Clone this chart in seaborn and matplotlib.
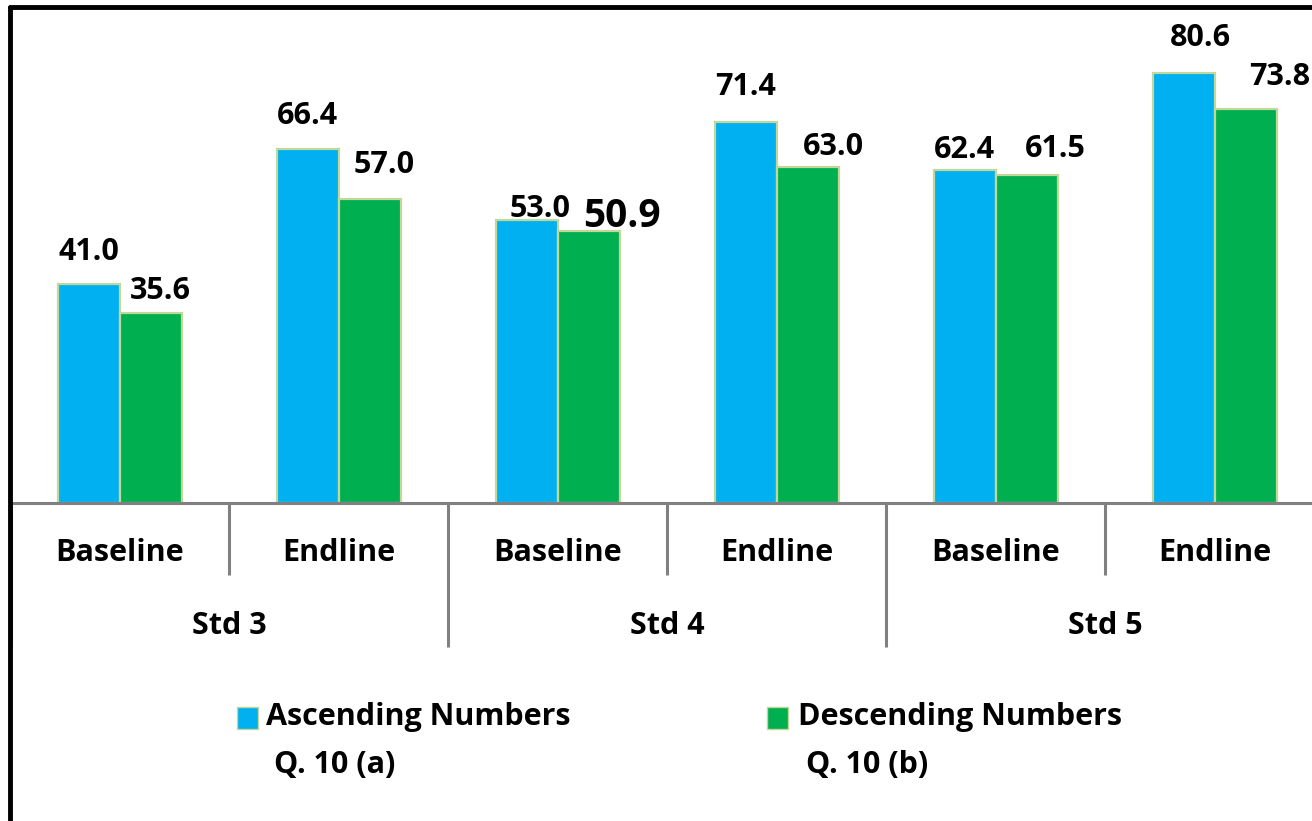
import matplotlib
matplotlib.use("Agg")
import matplotlib.pyplot as plt
import matplotlib.transforms as mtransforms
from matplotlib.patches import Rectangle
from matplotlib.lines import Line2D
import seaborn as sns
import pandas as pd

# ---- data ----
grades = ["Std 3", "Std 4", "Std 5"]
rounds = ["Baseline", "Endline"]
series = ["Ascending Numbers\nQ. 10 (a)", "Descending Numbers\nQ. 10 (b)"]
ascending = [41.0, 66.4, 53.0, 71.4, 62.4, 80.6]
descending = [35.6, 57.0, 50.9, 63.0, 61.5, 73.8]

# ---- styling ----
BLUE = "#00b0f0"
GREEN = "#00b050"
EDGE = "#c4d79b"
AXIS_GREY = "#808080"
FONT = "Open Sans"
TXT = 22

sns.set_theme(style="white")
plt.rcParams["font.family"] = [FONT, "DejaVu Sans"]
plt.rcParams["font.weight"] = "bold"

slots = [f"{g} {r}" for g in grades for r in rounds]
df = pd.DataFrame({
    "slot": slots * 2,
    "value": ascending + descending,
    "series": [series[0]] * len(slots) + [series[1]] * len(slots),
})

W, H = 1312, 821
fig = plt.figure(figsize=(W / 100, H / 100), dpi=100)
fig.patch.set_facecolor("white")

# axes in pixel geometry: x from 12 to right edge, y from 10 to 503 (top-origin)
ax_left, ax_right, ax_top, ax_bottom = 12, 1312, 10, 503
ax = fig.add_axes([ax_left / W, (H - ax_bottom) / H,
                   (ax_right - ax_left) / W, (ax_bottom - ax_top) / H])

sns.barplot(data=df, x="slot", y="value", hue="series", order=slots,
            hue_order=series, palette=[BLUE, GREEN], width=0.57,
            edgecolor=EDGE, linewidth=1.6, saturation=1, legend=False, ax=ax)

group_px = 219.0
ax.set_xlim(-0.5 + 1.5 / group_px, -0.5 + (ax_right - ax_left + 1.5) / group_px)
ax.set_ylim(0, (ax_bottom - ax_top) / 5.335)
ax.set_xticks([])
ax.set_yticks([])
ax.set_xlabel("")
ax.set_ylabel("")
for s in ["top", "right", "left"]:
    ax.spines[s].set_visible(False)
ax.spines["bottom"].set_color(AXIS_GREY)
ax.spines["bottom"].set_linewidth(2.2)

# value labels: per-bar offsets (pixels) from the bar top
label_dx = [[0, 0, 13, 0, 0, 17], [9, 14, 33, 25, 28, 33]]
label_dy = [[32, 33, 11, 35, 20, 35], [22, 34, 15, 20, 26, 32]]
label_size = [[TXT] * 6, [TXT, TXT, 28, TXT, TXT, TXT]]
for si, cont in enumerate(ax.containers):
    for bi, bar in enumerate(cont):
        val = bar.get_height()
        cx = bar.get_x() + bar.get_width() / 2
        ax.annotate(f"{val:.1f}", xy=(cx, val),
                    xytext=(label_dx[si][bi], label_dy[si][bi]),
                    textcoords="offset pixels", ha="center", va="center",
                    fontsize=label_size[si][bi], fontweight="bold",
                    color="black", annotation_clip=False)

# two-level category axis
trans = mtransforms.blended_transform_factory(ax.transData, ax.transAxes)
ax_h = ax_bottom - ax_top
short_end = -(575 - ax_bottom) / ax_h
long_end = -(647 - ax_bottom) / ax_h
for i in range(len(slots) + 1):
    x = i - 0.5
    end = long_end if i % 2 == 0 else short_end
    ax.plot([x, x], [0, end], transform=trans, color=AXIS_GREY,
            lw=2.2, clip_on=False, solid_capstyle="butt")

y_round = -(553 - ax_bottom) / ax_h
y_grade = -(626 - ax_bottom) / ax_h
for i, s in enumerate(slots):
    ax.text(i, y_round, rounds[i % 2], transform=trans, ha="center",
            va="center", fontsize=TXT, fontweight="bold", color="black")
for g, name in enumerate(grades):
    ax.text(2 * g + 0.5, y_grade, name, transform=trans, ha="center",
            va="center", fontsize=TXT, fontweight="bold", color="black")

# legend drawn below the category axis
def fx(px):
    return px / W

def fy(py):
    return 1 - py / H

for color, sq_x, txt_x, label in [(BLUE, 237, 266, series[0]),
                                  (GREEN, 767, 798, series[1])]:
    fig.patches.append(Rectangle((fx(sq_x), fy(729)), 21 / W, 22 / H,
                                 transform=fig.transFigure, facecolor=color,
                                 edgecolor=EDGE, lw=1.0))
    first, second = label.split("\n")
    fig.text(fx(txt_x), fy(717), first, ha="left", va="center",
             fontsize=TXT, fontweight="bold", color="black")
    fig.text(fx(txt_x + 8), fy(765), second, ha="left", va="center",
             fontsize=TXT, fontweight="bold", color="black")

# outer black frame (top and left edges)
fig.add_artist(Line2D([fx(10), 1.0], [fy(7), fy(7)], color="black", lw=3.5,
                      transform=fig.transFigure, solid_capstyle="round"))
fig.add_artist(Line2D([fx(10), fx(10)], [fy(7), 0.0], color="black", lw=3.5,
                      transform=fig.transFigure, solid_capstyle="round"))

fig.savefig("out.png", dpi=100, facecolor="white")
